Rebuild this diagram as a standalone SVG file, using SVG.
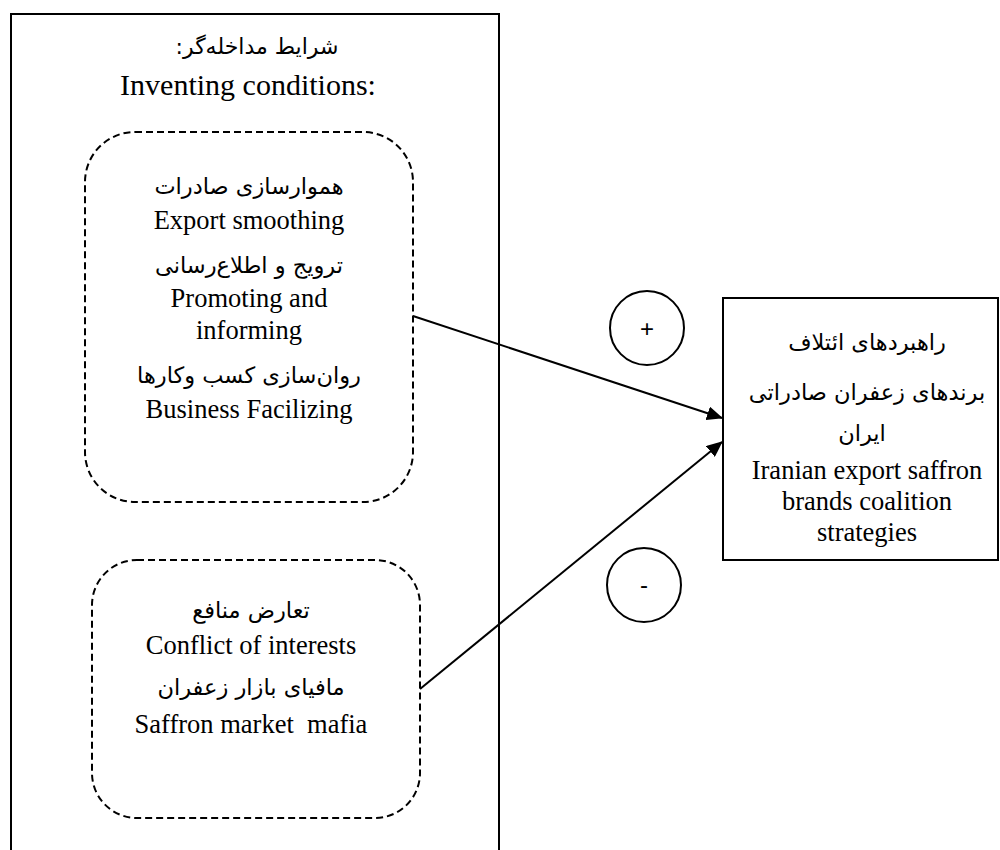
<svg xmlns="http://www.w3.org/2000/svg" width="1000" height="850" viewBox="0 0 1000 850">
<defs>
<style>
.en{font-family:"Liberation Serif","Times New Roman",serif;font-size:26.5px;fill:#000;text-anchor:middle}
.fa{font-family:"DejaVu Sans","Noto Sans",sans-serif;font-size:22.5px;fill:#000;text-anchor:middle;direction:rtl}
.solid{fill:#fff;stroke:#000;stroke-width:2}
.dash{fill:none;stroke:#000;stroke-width:2;stroke-dasharray:7 4}
.conn{fill:none;stroke:#000;stroke-width:2}
.sign{font-family:"Liberation Sans",Arial,sans-serif;font-size:24px;fill:#000;text-anchor:middle}
</style>
<marker id="arrh" markerWidth="16" markerHeight="14" refX="15" refY="7" orient="auto" markerUnits="userSpaceOnUse">
<path d="M0,0 L16,7 L0,14 z" fill="#000"/>
</marker>
</defs>
<rect width="1000" height="850" fill="#fff"/>
<g id="outer">
<path class="solid" d="M11,852 L11,14 L499,14 L499,852" />
<text class="fa" x="257" y="54" style="font-size:22px">شرایط مداخله‌گر:</text>
<text class="en" x="248" y="95" style="font-size:30px">Inventing conditions:</text>
</g>
<g id="conditions1">
<rect class="dash" x="85" y="132" width="328" height="370" rx="50" ry="50"/>
<text class="fa" x="249" y="194">هموارسازی صادرات</text>
<text class="en" x="249" y="229">Export smoothing</text>
<text class="fa" x="249" y="273">ترویج و اطلاع‌رسانی</text>
<text class="en" x="249" y="307">Promoting and</text>
<text class="en" x="249" y="339">informing</text>
<text class="fa" x="249" y="383">روان‌سازی کسب وکارها</text>
<text class="en" x="249" y="418">Business Facilizing</text>
</g>
<g id="conditions2">
<rect class="dash" x="92" y="560" width="328" height="258" rx="45" ry="45"/>
<text class="fa" x="251" y="618">تعارض منافع</text>
<text class="en" x="251" y="654">Conflict of interests</text>
<text class="fa" x="251" y="695">مافیای بازار زعفران</text>
<text class="en" x="251" y="733" style="white-space:pre">Saffron market  mafia</text>
</g>
<g id="outcome">
<rect class="solid" x="723" y="298" width="275" height="262"/>
<text class="fa" x="867" y="350">راهبردهای ائتلاف</text>
<text class="fa" x="867" y="400">برندهای زعفران صادراتی</text>
<text class="fa" x="862" y="441">ایران</text>
<text class="en" x="867" y="479">Iranian export saffron</text>
<text class="en" x="867" y="510">brands coalition</text>
<text class="en" x="867" y="541">strategies</text>
</g>
<g id="plus">
<circle cx="647" cy="328" r="37" fill="#fff" stroke="#000" stroke-width="2"/>
<text class="sign" x="647" y="337">+</text>
</g>
<g id="minus">
<circle cx="644" cy="585" r="37" fill="#fff" stroke="#000" stroke-width="2"/>
<text class="sign" x="644" y="593">-</text>
</g>
<g id="connectors">
<line class="conn" x1="413" y1="316" x2="722" y2="418" marker-end="url(#arrh)"/>
<line class="conn" x1="420" y1="689" x2="722" y2="442" marker-end="url(#arrh)"/>
</g>
</svg>
